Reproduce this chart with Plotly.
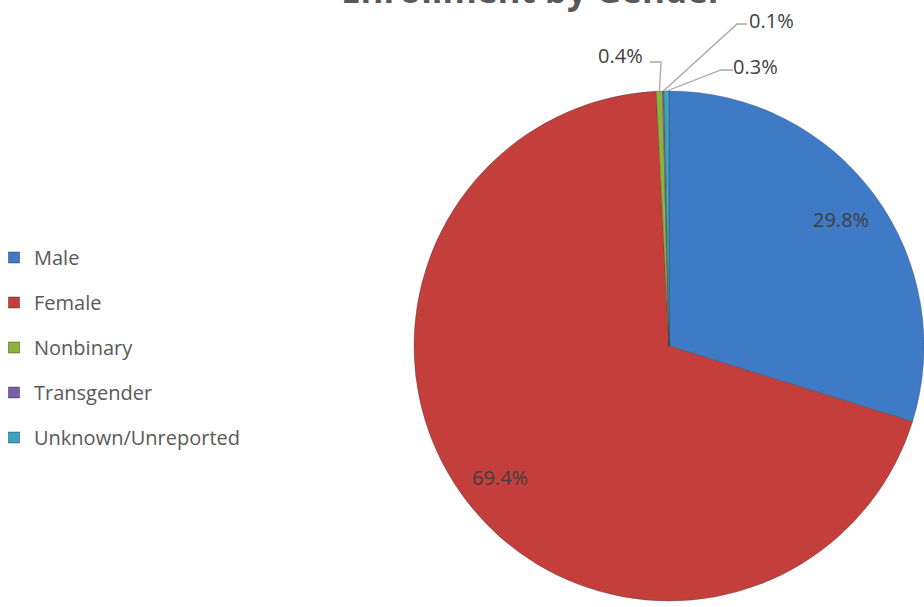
import math
import plotly.graph_objects as go

# ---- data ----
categories = ["Male", "Female", "Nonbinary", "Transgender", "Unknown/Unreported"]
percent_values = [29.8, 69.4, 0.4, 0.1, 0.3]
slice_colors = ["#3E7AC6", "#C43F3B", "#8DB33A", "#7B5EA7", "#38A5C3"]
title_text = "Enrollment by Gender"

# ---- layout constants (pixels) ----
W, H = 924, 607
CX, CY, R = 669, 346, 255

def px(x):
    return x / W

def py(y):
    return 1 - y / H

fig = go.Figure()

fig.add_trace(go.Pie(
    labels=categories,
    values=percent_values,
    sort=False,
    direction="clockwise",
    rotation=0,
    marker=dict(colors=slice_colors, line=dict(color="rgba(60,60,60,0.35)", width=1)),
    textinfo="none",
    showlegend=False,
    hoverinfo="label+percent",
    domain=dict(x=[px(CX - R), min(1.0, px(CX + R))], y=[py(CY + R), py(CY - R)]),
))

# legend entries (one group each so the gap between rows can be set)
for name, col in zip(categories, slice_colors):
    fig.add_trace(go.Scatter(
        x=[None], y=[None], mode="markers", name=name, legendgroup=name,
        marker=dict(symbol="square", size=11, color=col,
                    line=dict(color="rgba(0,0,0,0.35)", width=1)),
        showlegend=True, hoverinfo="skip",
    ))

# slice mid-angles from the data
total = sum(percent_values)
cum = 0.0
mids = []
for v in percent_values:
    mids.append((cum + v / 2) / total * 360.0)
    cum += v

def polar(theta_deg, r):
    t = math.radians(theta_deg)
    return CX + r * math.sin(t), CY - r * math.cos(t)

annotations = []
shapes = []
label_font = dict(family="Open Sans, Noto Sans, sans-serif", size=20, color="#404040")

# inside labels for the large slices
for i in (0, 1):
    x, y = polar(mids[i], 0.84 * R)
    annotations.append(dict(x=px(x), y=py(y), xref="paper", yref="paper",
                            xanchor="center", yanchor="middle",
                            text=f"{percent_values[i]:.1f}%", showarrow=False,
                            font=label_font))

# outside labels with leader lines for the small slices: (text centre, line start, elbow)
small_layout = {
    2: ((620, 56), (650, 62), (661, 62)),
    3: ((771, 21), (747, 24), (737, 24)),
    4: ((755, 66), (733, 70), (721, 70)),
}
for i, (tc, ls, el) in small_layout.items():
    ex, ey = polar(mids[i], R)
    annotations.append(dict(x=px(tc[0]), y=py(tc[1]), xref="paper", yref="paper",
                            xanchor="center", yanchor="middle",
                            text=f"{percent_values[i]:.1f}%", showarrow=False,
                            font=label_font))
    shapes.append(dict(type="path", xref="paper", yref="paper",
                       path=f"M {px(ls[0])},{py(ls[1])} L {px(el[0])},{py(el[1])} L {px(ex)},{py(ey)}",
                       line=dict(color="#A6A6A6", width=1.3)))

# title (partially cut off at the top, as in the reference)
annotations.append(dict(x=px(532), y=py(15), xref="paper", yref="paper",
                        xanchor="center", yanchor="bottom",
                        text=f"<b>{title_text}</b>", showarrow=False,
                        font=dict(family="Open Sans, Noto Sans, sans-serif", size=35, color="#595959")))

fig.update_layout(
    width=W, height=H,
    margin=dict(l=0, r=0, t=0, b=0, autoexpand=False),
    paper_bgcolor="white", plot_bgcolor="white",
    xaxis=dict(visible=False), yaxis=dict(visible=False),
    legend=dict(x=px(-6), y=py(238), xanchor="left", yanchor="top",
                font=dict(family="Open Sans, Noto Sans, sans-serif", size=20, color="#595959"),
                tracegroupgap=16, bgcolor="rgba(0,0,0,0)"),
    annotations=annotations,
    shapes=shapes,
)

fig.write_html("out.html", config={"displayModeBar": False},
               post_script="document.body.style.margin='0';")
